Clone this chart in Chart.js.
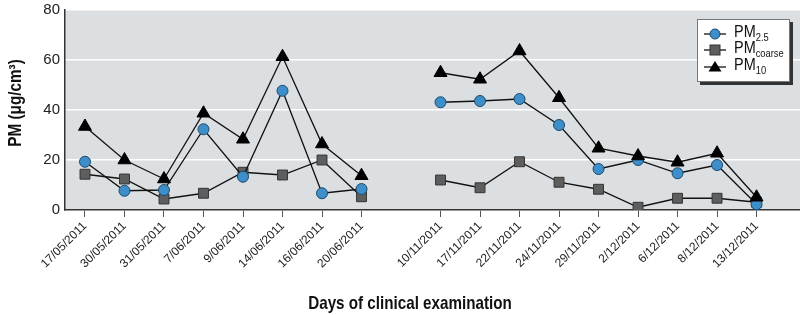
<!DOCTYPE html>
<html>
<head>
<meta charset="utf-8">
<script src="https://cdn.jsdelivr.net/npm/chart.js@4/dist/chart.umd.min.js"></script>
<style>
  html, body { margin: 0; padding: 0; background: #fff; }
  #wrap { position: relative; width: 800px; height: 315px; }
  #legend {
    position: absolute; left: 697px; top: 19px; width: 91px; height: 61px;
    background: #fff; border: 1px solid #777; box-shadow: 3px 3px 0 #333;
    font-family: "Liberation Sans", sans-serif;
    font-size: 17px; color: #111;
  }
  .row { position: absolute; left: 5px; height: 18px; line-height: 18px; white-space: nowrap; }
  .row svg { position: absolute; left: 0; top: 0; }
  .row span.t { position: absolute; left: 31px; top: -2px; transform: scaleX(0.85); transform-origin: left center; }
  .row sub { font-size: 11px; vertical-align: -4px; line-height: 0; }
</style>
</head>
<body>
<div id="wrap">
  <canvas id="pmChart" width="800" height="315"></canvas>
  <div id="legend">
    <div class="row" style="top:5px">
      <svg width="24" height="18"><line x1="1" y1="9" x2="23" y2="9" stroke="#111" stroke-width="1.3"/><circle cx="12" cy="9" r="5" fill="#3d8ec9" stroke="#1d4a6a"/></svg>
      <span class="t">PM<sub>2.5</sub></span>
    </div>
    <div class="row" style="top:21px">
      <svg width="24" height="18"><line x1="1" y1="9" x2="23" y2="9" stroke="#111" stroke-width="1.3"/><rect x="7" y="4" width="10" height="10" fill="#5e5e5e" stroke="#333"/></svg>
      <span class="t">PM<sub>coarse</sub></span>
    </div>
    <div class="row" style="top:38px">
      <svg width="24" height="18"><line x1="1" y1="9" x2="23" y2="9" stroke="#111" stroke-width="1.3"/><polygon points="12,3 18.5,13.5 5.5,13.5" fill="#000"/></svg>
      <span class="t">PM<sub>10</sub></span>
    </div>
  </div>
</div>
<script>
const FONT = '"Liberation Sans", sans-serif';

// examination days, '' marks the gap between the two campaigns
const dates = ['17/05/2011', '30/05/2011', '31/05/2011', '7/06/2011', '9/06/2011', '14/06/2011', '16/06/2011', '20/06/2011',
    '',
    '10/11/2011', '17/11/2011', '22/11/2011', '24/11/2011', '29/11/2011', '2/12/2011', '6/12/2011', '8/12/2011', '13/12/2011'];

const pm25 = [19.3, 7.7, 8, 32.3, 13.3, 47.7, 6.7, 8.4, null, 43.1, 43.6, 44.4, 34, 16.4, 20, 14.7, 18, 2.3];
const pmCoarse = [14.3, 12.4, 4.4, 6.7, 15.1, 14, 20, 5.3, null, 12, 8.9, 19.3, 11.1, 8.3, 1.1, 4.7, 4.7, 3.1];
const pm10 = [33.4, 20, 12.4, 38.7, 28.3, 61.3, 26.4, 13.7, null, 54.9, 52.3, 63.6, 44.9, 24.7, 21.6, 19.1, 22.7, 5.1];

const yTicks = [0, 20, 40, 60, 80];

function toPoints(values) {
    return values.map((v, i) => ({ x: i, y: v }));
}

const decorPlugin = {
    id: 'decor',
    beforeDraw(chart) {
        const { ctx, chartArea: a } = chart;
        ctx.save();
        ctx.fillStyle = '#dcdfe1';
        ctx.fillRect(a.left, a.top, a.right - a.left, a.bottom - a.top);
        ctx.restore();
    },
    afterDraw(chart) {
        const ctx = chart.ctx;
        ctx.save();
        ctx.fillStyle = '#111';
        ctx.textAlign = 'center';
        ctx.textBaseline = 'middle';
        ctx.font = 'bold 19px ' + FONT;
        ctx.save();
        ctx.translate(410, 304);
        ctx.scale(0.8, 1);
        ctx.fillText('Days of clinical examination', 0, 0);
        ctx.restore();
        // y axis title, narrowed a little like the condensed original
        ctx.translate(16, 103);
        ctx.rotate(-Math.PI / 2);
        ctx.scale(0.85, 1);
        ctx.font = 'bold 18px ' + FONT;
        ctx.fillText('PM (μg/cm³)', 0, 0);
        ctx.restore();
    }
};

const ctx = document.getElementById('pmChart').getContext('2d');
new Chart(ctx, {
    type: 'line',
    data: {
        datasets: [
            {
                label: 'PM10',
                data: toPoints(pm10),
                borderColor: '#111',
                borderWidth: 1.3,
                pointStyle: 'triangle',
                pointRadius: 7.5,
                pointBackgroundColor: '#000',
                pointBorderColor: '#000',
                pointBorderWidth: 1,
                spanGaps: false
            },
            {
                label: 'PM2.5',
                data: toPoints(pm25),
                borderColor: '#111',
                borderWidth: 1.3,
                pointStyle: 'circle',
                pointRadius: 5.5,
                pointBackgroundColor: '#3d8ec9',
                pointBorderColor: '#1d4a6a',
                pointBorderWidth: 1,
                spanGaps: false
            },
            {
                label: 'PMcoarse',
                data: toPoints(pmCoarse),
                borderColor: '#111',
                borderWidth: 1.3,
                pointStyle: 'rect',
                pointRadius: 7,
                pointBackgroundColor: '#5e5e5e',
                pointBorderColor: '#333',
                pointBorderWidth: 1,
                spanGaps: false
            }
        ]
    },
    options: {
        responsive: false,
        animation: false,
        layout: { autoPadding: false, padding: { top: 10, right: 0, bottom: 0, left: 0 } },
        plugins: {
            legend: { display: false },
            tooltip: { enabled: false }
        },
        scales: {
            x: {
                type: 'linear',
                min: -0.506,
                max: 18.1,
                afterBuildTicks: scale => {
                    scale.ticks = dates.map((d, i) => d ? { value: i } : null).filter(Boolean);
                },
                afterFit: scale => {
                    scale.height = 105;
                    scale.paddingLeft = 0;
                    scale.paddingRight = 0;
                },
                ticks: {
                    autoSkip: false,
                    maxRotation: 45,
                    minRotation: 45,
                    padding: 2,
                    color: '#222',
                    font: { family: FONT, size: 12 },
                    callback: v => dates[v]
                },
                grid: { drawOnChartArea: false, tickLength: 7, tickColor: '#555', tickWidth: 1 },
                border: { color: '#333', width: 1.5 }
            },
            y: {
                min: 0,
                max: 80,
                afterBuildTicks: scale => {
                    scale.ticks = yTicks.map(v => ({ value: v }));
                },
                afterFit: scale => {
                    scale.width = 65;
                    scale.paddingTop = 0;
                    scale.paddingBottom = 0;
                },
                ticks: {
                    padding: 5,
                    color: '#222',
                    font: { family: FONT, size: 15 }
                },
                grid: { color: '#ffffff', lineWidth: 1.5, drawTicks: false },
                border: { color: '#333', width: 1.5 }
            }
        }
    },
    plugins: [decorPlugin]
});
</script>
</body>
</html>
